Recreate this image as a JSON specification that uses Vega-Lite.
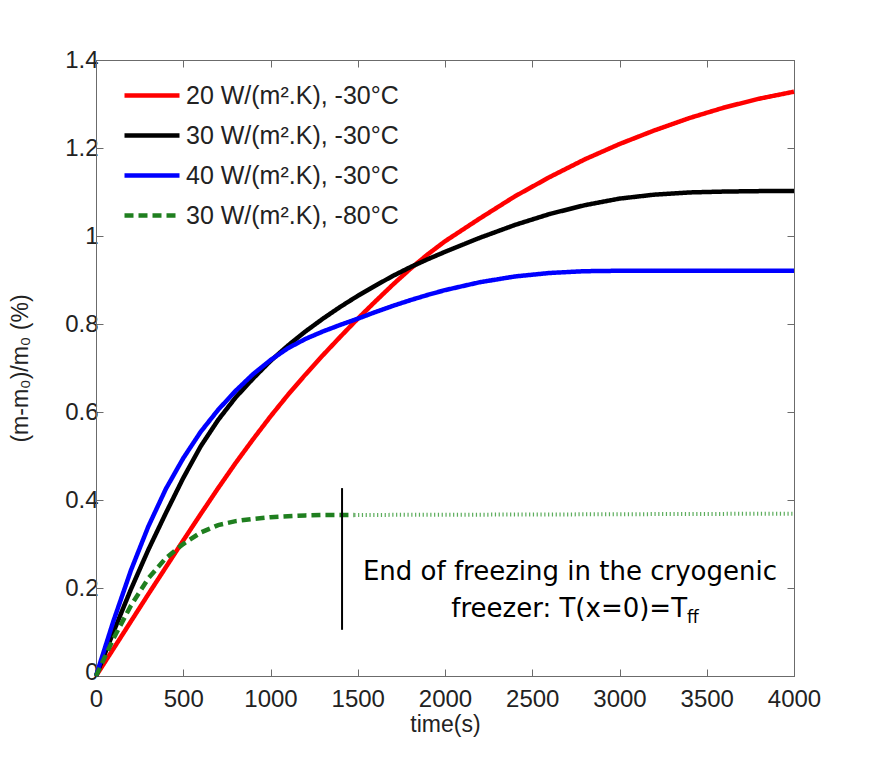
{
  "$schema": "https://vega.github.io/schema/vega-lite/v6.json",
  "autosize": "none",
  "width": 698,
  "height": 616,
  "padding": {"left": 96, "top": 60, "right": 75, "bottom": 81},
  "background": "white",
  "config": {
    "view": {"stroke": "#6b6b6b", "strokeWidth": 1},
    "axis": {
      "grid": false,
      "domainColor": "#6b6b6b",
      "tickColor": "#6b6b6b",
      "labelColor": "#222222",
      "titleColor": "#222222",
      "labelFont": "Liberation Sans",
      "titleFont": "Liberation Sans",
      "labelFontSize": 24,
      "labelFlush": false,
      "labelOverlap": false,
      "titleFontSize": 23,
      "titleFontWeight": "normal",
      "tickSize": -7
    },
    "legend": {
      "title": null,
      "orient": "none",
      "legendX": 26,
      "legendY": 23,
      "symbolType": "stroke",
      "symbolSize": 3025,
      "symbolStrokeWidth": 4.5,
      "labelFont": "Liberation Sans",
      "labelFontSize": 25,
      "labelColor": "#222222",
      "labelOffset": 4,
      "labelLimit": 0,
      "clipHeight": 25,
      "rowPadding": 14,
      "padding": 0
    }
  },
  "datasets": {
    "curves": [
      {"series": "20 W/(m².K), -30°C", "t": 0, "v": 0},
      {"series": "20 W/(m².K), -30°C", "t": 100, "v": 0.062},
      {"series": "20 W/(m².K), -30°C", "t": 200, "v": 0.124},
      {"series": "20 W/(m².K), -30°C", "t": 300, "v": 0.186},
      {"series": "20 W/(m².K), -30°C", "t": 400, "v": 0.247},
      {"series": "20 W/(m².K), -30°C", "t": 500, "v": 0.308},
      {"series": "20 W/(m².K), -30°C", "t": 600, "v": 0.368},
      {"series": "20 W/(m².K), -30°C", "t": 700, "v": 0.427},
      {"series": "20 W/(m².K), -30°C", "t": 800, "v": 0.484},
      {"series": "20 W/(m².K), -30°C", "t": 900, "v": 0.538},
      {"series": "20 W/(m².K), -30°C", "t": 1000, "v": 0.59},
      {"series": "20 W/(m².K), -30°C", "t": 1100, "v": 0.639},
      {"series": "20 W/(m².K), -30°C", "t": 1200, "v": 0.685},
      {"series": "20 W/(m².K), -30°C", "t": 1300, "v": 0.729},
      {"series": "20 W/(m².K), -30°C", "t": 1400, "v": 0.771},
      {"series": "20 W/(m².K), -30°C", "t": 1500, "v": 0.812},
      {"series": "20 W/(m².K), -30°C", "t": 1600, "v": 0.851},
      {"series": "20 W/(m².K), -30°C", "t": 1700, "v": 0.889},
      {"series": "20 W/(m².K), -30°C", "t": 1800, "v": 0.925},
      {"series": "20 W/(m².K), -30°C", "t": 1900, "v": 0.958},
      {"series": "20 W/(m².K), -30°C", "t": 2000, "v": 0.988},
      {"series": "20 W/(m².K), -30°C", "t": 2200, "v": 1.04},
      {"series": "20 W/(m².K), -30°C", "t": 2400, "v": 1.09},
      {"series": "20 W/(m².K), -30°C", "t": 2600, "v": 1.134},
      {"series": "20 W/(m².K), -30°C", "t": 2800, "v": 1.174},
      {"series": "20 W/(m².K), -30°C", "t": 3000, "v": 1.209},
      {"series": "20 W/(m².K), -30°C", "t": 3200, "v": 1.24},
      {"series": "20 W/(m².K), -30°C", "t": 3400, "v": 1.268},
      {"series": "20 W/(m².K), -30°C", "t": 3600, "v": 1.292},
      {"series": "20 W/(m².K), -30°C", "t": 3800, "v": 1.312},
      {"series": "20 W/(m².K), -30°C", "t": 4000, "v": 1.328},

      {"series": "30 W/(m².K), -30°C", "t": 0, "v": 0},
      {"series": "30 W/(m².K), -30°C", "t": 100, "v": 0.1},
      {"series": "30 W/(m².K), -30°C", "t": 200, "v": 0.197},
      {"series": "30 W/(m².K), -30°C", "t": 300, "v": 0.287},
      {"series": "30 W/(m².K), -30°C", "t": 400, "v": 0.37},
      {"series": "30 W/(m².K), -30°C", "t": 500, "v": 0.45},
      {"series": "30 W/(m².K), -30°C", "t": 600, "v": 0.522},
      {"series": "30 W/(m².K), -30°C", "t": 700, "v": 0.582},
      {"series": "30 W/(m².K), -30°C", "t": 800, "v": 0.633},
      {"series": "30 W/(m².K), -30°C", "t": 900, "v": 0.676},
      {"series": "30 W/(m².K), -30°C", "t": 1000, "v": 0.716},
      {"series": "30 W/(m².K), -30°C", "t": 1100, "v": 0.751},
      {"series": "30 W/(m².K), -30°C", "t": 1200, "v": 0.783},
      {"series": "30 W/(m².K), -30°C", "t": 1300, "v": 0.812},
      {"series": "30 W/(m².K), -30°C", "t": 1400, "v": 0.839},
      {"series": "30 W/(m².K), -30°C", "t": 1500, "v": 0.864},
      {"series": "30 W/(m².K), -30°C", "t": 1600, "v": 0.887},
      {"series": "30 W/(m².K), -30°C", "t": 1700, "v": 0.909},
      {"series": "30 W/(m².K), -30°C", "t": 1800, "v": 0.929},
      {"series": "30 W/(m².K), -30°C", "t": 1900, "v": 0.947},
      {"series": "30 W/(m².K), -30°C", "t": 2000, "v": 0.964},
      {"series": "30 W/(m².K), -30°C", "t": 2200, "v": 0.996},
      {"series": "30 W/(m².K), -30°C", "t": 2400, "v": 1.025},
      {"series": "30 W/(m².K), -30°C", "t": 2600, "v": 1.05},
      {"series": "30 W/(m².K), -30°C", "t": 2800, "v": 1.07},
      {"series": "30 W/(m².K), -30°C", "t": 3000, "v": 1.085},
      {"series": "30 W/(m².K), -30°C", "t": 3200, "v": 1.094},
      {"series": "30 W/(m².K), -30°C", "t": 3400, "v": 1.099},
      {"series": "30 W/(m².K), -30°C", "t": 3600, "v": 1.101},
      {"series": "30 W/(m².K), -30°C", "t": 3800, "v": 1.102},
      {"series": "30 W/(m².K), -30°C", "t": 4000, "v": 1.102},

      {"series": "40 W/(m².K), -30°C", "t": 0, "v": 0},
      {"series": "40 W/(m².K), -30°C", "t": 100, "v": 0.125},
      {"series": "40 W/(m².K), -30°C", "t": 200, "v": 0.24},
      {"series": "40 W/(m².K), -30°C", "t": 300, "v": 0.34},
      {"series": "40 W/(m².K), -30°C", "t": 400, "v": 0.425},
      {"series": "40 W/(m².K), -30°C", "t": 500, "v": 0.495},
      {"series": "40 W/(m².K), -30°C", "t": 600, "v": 0.555},
      {"series": "40 W/(m².K), -30°C", "t": 700, "v": 0.605},
      {"series": "40 W/(m².K), -30°C", "t": 800, "v": 0.648},
      {"series": "40 W/(m².K), -30°C", "t": 900, "v": 0.686},
      {"series": "40 W/(m².K), -30°C", "t": 1000, "v": 0.718},
      {"series": "40 W/(m².K), -30°C", "t": 1100, "v": 0.745},
      {"series": "40 W/(m².K), -30°C", "t": 1200, "v": 0.766},
      {"series": "40 W/(m².K), -30°C", "t": 1300, "v": 0.783},
      {"series": "40 W/(m².K), -30°C", "t": 1400, "v": 0.798},
      {"series": "40 W/(m².K), -30°C", "t": 1500, "v": 0.812},
      {"series": "40 W/(m².K), -30°C", "t": 1600, "v": 0.827},
      {"series": "40 W/(m².K), -30°C", "t": 1700, "v": 0.841},
      {"series": "40 W/(m².K), -30°C", "t": 1800, "v": 0.854},
      {"series": "40 W/(m².K), -30°C", "t": 1900, "v": 0.866},
      {"series": "40 W/(m².K), -30°C", "t": 2000, "v": 0.877},
      {"series": "40 W/(m².K), -30°C", "t": 2200, "v": 0.895},
      {"series": "40 W/(m².K), -30°C", "t": 2400, "v": 0.908},
      {"series": "40 W/(m².K), -30°C", "t": 2600, "v": 0.916},
      {"series": "40 W/(m².K), -30°C", "t": 2800, "v": 0.92},
      {"series": "40 W/(m².K), -30°C", "t": 3000, "v": 0.921},
      {"series": "40 W/(m².K), -30°C", "t": 3500, "v": 0.921},
      {"series": "40 W/(m².K), -30°C", "t": 4000, "v": 0.921},

      {"series": "30 W/(m².K), -80°C", "t": 0, "v": 0},
      {"series": "30 W/(m².K), -80°C", "t": 100, "v": 0.085},
      {"series": "30 W/(m².K), -80°C", "t": 200, "v": 0.16},
      {"series": "30 W/(m².K), -80°C", "t": 300, "v": 0.222},
      {"series": "30 W/(m².K), -80°C", "t": 400, "v": 0.268},
      {"series": "30 W/(m².K), -80°C", "t": 500, "v": 0.3},
      {"series": "30 W/(m².K), -80°C", "t": 600, "v": 0.326},
      {"series": "30 W/(m².K), -80°C", "t": 700, "v": 0.343},
      {"series": "30 W/(m².K), -80°C", "t": 800, "v": 0.352},
      {"series": "30 W/(m².K), -80°C", "t": 900, "v": 0.357},
      {"series": "30 W/(m².K), -80°C", "t": 1000, "v": 0.361},
      {"series": "30 W/(m².K), -80°C", "t": 1100, "v": 0.363},
      {"series": "30 W/(m².K), -80°C", "t": 1200, "v": 0.365},
      {"series": "30 W/(m².K), -80°C", "t": 1300, "v": 0.366},
      {"series": "30 W/(m².K), -80°C", "t": 1400, "v": 0.366},
      {"series": "30 W/(m².K), -80°C", "t": 1480, "v": 0.366}
    ],
    "tail": [
      {"t": 1480, "v": 0.366},
      {"t": 2500, "v": 0.367},
      {"t": 4000, "v": 0.369}
    ],
    "marker": [
      {"t": 1410, "v": 0.105, "v2": 0.427}
    ],
    "noteLine1": [
      {"t": 2716, "v": 0.218, "label": "End of freezing in the cryogenic"}
    ],
    "noteLine2": [
      {"t": 3387, "v": 0.134, "label": "freezer: T(x=0)=T"}
    ],
    "noteSub": [
      {"t": 3387, "v": 0.121, "label": "ff"}
    ]
  },
  "layer": [
    {
      "data": {"name": "curves"},
      "mark": {"type": "line", "strokeWidth": 4.5, "strokeCap": "butt"},
      "encoding": {
        "x": {
          "field": "t", "type": "quantitative",
          "scale": {"domain": [0, 4000], "nice": false},
          "axis": {
            "orient": "bottom",
            "values": [0, 500, 1000, 1500, 2000, 2500, 3000, 3500, 4000],
            "format": "d",
            "labelPadding": 18,
            "title": "time(s)",
            "titlePadding": 2
          }
        },
        "y": {
          "field": "v", "type": "quantitative",
          "scale": {"domain": [0, 1.4], "nice": false},
          "axis": {
            "orient": "left",
            "values": [0, 0.2, 0.4, 0.6, 0.8, 1, 1.2, 1.4],
            "format": "~g",
            "labelPadding": 5,
            "labelOffset": {"condition": {"test": "datum.value === 0", "value": -4}, "value": 0},
            "title": "(m-m₀)/m₀ (%)",
            "titlePadding": 32
          }
        },
        "color": {
          "field": "series", "type": "nominal",
          "scale": {
            "domain": ["20 W/(m².K), -30°C", "30 W/(m².K), -30°C", "40 W/(m².K), -30°C", "30 W/(m².K), -80°C"],
            "range": ["#ff0000", "#000000", "#0000ff", "#1f7f1f"]
          }
        },
        "strokeDash": {
          "field": "series", "type": "nominal",
          "scale": {
            "domain": ["20 W/(m².K), -30°C", "30 W/(m².K), -30°C", "40 W/(m².K), -30°C", "30 W/(m².K), -80°C"],
            "range": [[1, 0], [1, 0], [1, 0], [9, 5]]
          }
        }
      }
    },
    {
      "data": {"name": "tail"},
      "mark": {"type": "line", "color": "#3f9f3f", "strokeWidth": 4, "strokeDash": [1.2, 2.6], "opacity": 0.85},
      "encoding": {
        "x": {
          "field": "t", "type": "quantitative",
          "axis": {
            "orient": "top",
            "values": [0, 500, 1000, 1500, 2000, 2500, 3000, 3500, 4000],
            "labels": false,
            "title": null
          }
        },
        "y": {
          "field": "v", "type": "quantitative",
          "axis": {
            "orient": "right",
            "values": [0, 0.2, 0.4, 0.6, 0.8, 1, 1.2, 1.4],
            "labels": false,
            "title": null
          }
        }
      }
    },
    {
      "data": {"name": "marker"},
      "mark": {"type": "rule", "color": "#000000", "strokeWidth": 2},
      "encoding": {
        "x": {"field": "t", "type": "quantitative", "axis": null},
        "y": {"field": "v", "type": "quantitative", "axis": null},
        "y2": {"field": "v2"}
      }
    },
    {
      "data": {"name": "noteLine1"},
      "mark": {"type": "text", "font": "DejaVu Sans", "fontSize": 26, "color": "#000000", "align": "center", "baseline": "alphabetic"},
      "encoding": {
        "x": {"field": "t", "type": "quantitative", "axis": null},
        "y": {"field": "v", "type": "quantitative", "axis": null},
        "text": {"field": "label"}
      }
    },
    {
      "data": {"name": "noteLine2"},
      "mark": {"type": "text", "font": "DejaVu Sans", "fontSize": 26, "color": "#000000", "align": "right", "baseline": "alphabetic"},
      "encoding": {
        "x": {"field": "t", "type": "quantitative", "axis": null},
        "y": {"field": "v", "type": "quantitative", "axis": null},
        "text": {"field": "label"}
      }
    },
    {
      "data": {"name": "noteSub"},
      "mark": {"type": "text", "font": "DejaVu Sans", "fontSize": 17, "color": "#000000", "align": "left", "baseline": "alphabetic"},
      "encoding": {
        "x": {"field": "t", "type": "quantitative", "axis": null},
        "y": {"field": "v", "type": "quantitative", "axis": null},
        "text": {"field": "label"}
      }
    }
  ]
}
